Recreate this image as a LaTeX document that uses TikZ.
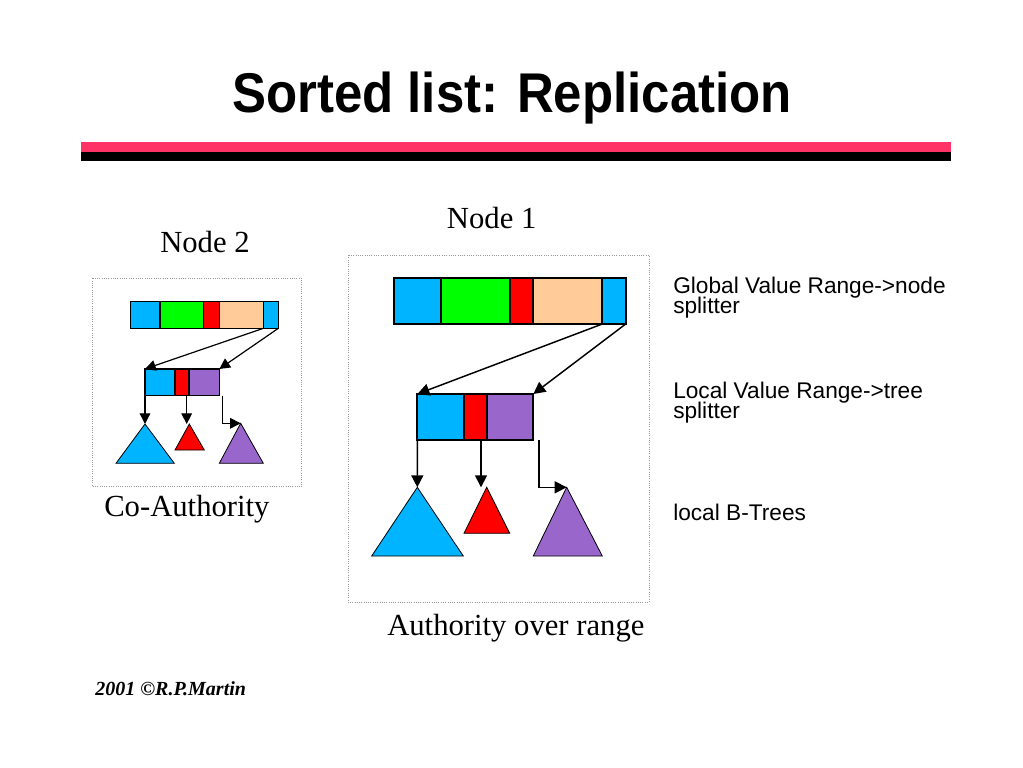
\documentclass[tikz,border=0pt]{standalone}
\usepackage{fontspec}
\setmainfont{Liberation Serif}
\newfontfamily\arialf{Liberation Sans}
\newfontfamily\titlef[FakeStretch=0.91]{Liberation Sans Bold}
\usetikzlibrary{arrows.meta}
\definecolor{cy}{HTML}{00B4FF}
\definecolor{gr}{HTML}{00FF00}
\definecolor{rd}{HTML}{FF0000}
\definecolor{pe}{HTML}{FFCC99}
\definecolor{pu}{HTML}{9966CC}
\definecolor{pk}{HTML}{FF3366}
\begin{document}
\begin{tikzpicture}[x=0.75pt,y=-0.75pt,
  seg/.style={draw=black, line width=1.5pt, inner sep=0pt, outer sep=0pt},
  segs/.style={draw=black, line width=1.1pt, inner sep=0pt, outer sep=0pt},
  conn/.style={line width=1.1pt, -{Triangle[length=9pt,width=9pt]}},
  conns/.style={line width=0.9pt, -{Triangle[length=8pt,width=8pt]}},
  tri/.style={draw=black, line width=0.6pt},
  frame/.style={draw=gray!80, line width=0.7pt, densely dotted},
  lbl/.style={inner sep=0pt, anchor=base west, font=\fontsize{23}{27}\selectfont},
  side/.style={inner sep=0pt, anchor=base west, font=\arialf\fontsize{17}{15}\selectfont}
]
\useasboundingbox (0,0) rectangle (1023,767);
\fill[white] (0,0) rectangle (1023,767);

% title
\node[inner sep=0pt, anchor=base] (title) at (512,112)
  {\titlef\fontsize{42}{48}\selectfont Sorted list: Replication};
\fill[pk] (80.7,142.3) rectangle (950.7,152);
\fill[black] (80.7,152) rectangle (950.7,160.7);

% frames
\draw[frame] (92.7,278.3) rectangle (301.7,486.7);
\draw[frame] (348,255) rectangle (649,602);

% ---------- Node 1 (right) ----------
\node[seg, fill=cy, minimum width=35pt, minimum height=34.5pt] (A1) at (417.3,301) {};
\node[seg, fill=gr, minimum width=52pt, minimum height=34.5pt] (A2) at (475.3,301) {};
\node[seg, fill=rd, minimum width=17.5pt, minimum height=34.5pt] (A3) at (521.7,301) {};
\node[seg, fill=pe, minimum width=51.75pt, minimum height=34.5pt] (A4) at (567.8,301) {};
\node[seg, fill=cy, minimum width=17.55pt, minimum height=34.5pt] (A5) at (614,301) {};

\node[seg, fill=cy, minimum width=35pt, minimum height=34.5pt] (B1) at (440.7,417) {};
\node[seg, fill=rd, minimum width=17.5pt, minimum height=34.5pt] (B2) at (475.7,417) {};
\node[seg, fill=pu, minimum width=34.5pt, minimum height=34.5pt] (B3) at (510.3,417) {};

\coordinate (TA) at (417.3,487.3);
\coordinate (TB) at (486.7,487.3);
\coordinate (TC) at (566.7,487.3);
\filldraw[tri, fill=cy] (TA) -- (463.3,556) -- (371.7,556) -- cycle;
\filldraw[tri, fill=rd] (TB) -- (509.7,533.3) -- (464,533.3) -- cycle;
\filldraw[tri, fill=pu] (TC) -- (602.3,556) -- (533.3,556) -- cycle;

\draw[conn] (A4.south east) -- (B1.north west);
\draw[conn] (A5.south east) -- (B3.north east);
\draw[conn] (B1.south west) -- (TA);
\draw[conn] (481,440) -- (481,487.3);
\draw[conn] (539,440) -- (539,487.3) -- (TC);

% ---------- Node 2 (left) ----------
\node[segs, fill=cy, minimum width=22pt, minimum height=20pt] (a1) at (145.3,315) {};
\node[segs, fill=gr, minimum width=32.5pt, minimum height=20pt] (a2) at (181.7,315) {};
\node[segs, fill=rd, minimum width=12pt, minimum height=20pt] (a3) at (211.3,315) {};
\node[segs, fill=pe, minimum width=33pt, minimum height=20pt] (a4) at (241.3,315) {};
\node[segs, fill=cy, minimum width=11.25pt, minimum height=20pt] (a5) at (270.8,315) {};

\node[segs, fill=cy, minimum width=22.5pt, minimum height=20pt] (b1) at (160,382.3) {};
\node[segs, fill=rd, minimum width=10.5pt, minimum height=20pt] (b2) at (182,382.3) {};
\node[segs, fill=pu, minimum width=22.7pt, minimum height=20pt] (b3) at (204.2,382.3) {};

\coordinate (ta) at (145,424);
\coordinate (tb) at (189.3,424);
\coordinate (tc) at (240.7,423.3);
\filldraw[tri, fill=cy] (ta) -- (174.3,463.3) -- (116,463.3) -- cycle;
\filldraw[tri, fill=rd] (tb) -- (204.3,450) -- (175,450) -- cycle;
\filldraw[tri, fill=pu] (tc) -- (263.3,463.3) -- (219.3,463.3) -- cycle;

\draw[conns] (a4.south east) -- (b1.north west);
\draw[conns] (a5.south east) -- (b3.north east);
\draw[conns] (b1.south west) -- (ta);
\draw[conns] (186.7,395.7) -- (186.7,424);
\draw[conns] (222.7,395.7) -- (222.7,423.3) -- (tc);

% labels
\node[lbl] (n2) at (160,252) {Node 2};
\node[lbl] (n1) at (446.7,228.3) {Node 1};
\node[lbl] (co) at (104,516) {Co-Authority};
\node[lbl] (au) at (387,635) {Authority over range};

\node[side] (s1) at (673,293) {Global Value Range->node};
\node[side] (s1b) at (673,313) {splitter};
\node[side] (s2) at (673,398.3) {Local Value Range->tree};
\node[side] (s2b) at (673,418) {splitter};
\node[side] (s3) at (673,520) {local B-Trees};

\node[inner sep=0pt, anchor=base west] (foot) at (95,695)
  {\fontsize{15}{18}\selectfont\bfseries\itshape 2001 \textcopyright R.P.Martin};
\end{tikzpicture}
\end{document}
